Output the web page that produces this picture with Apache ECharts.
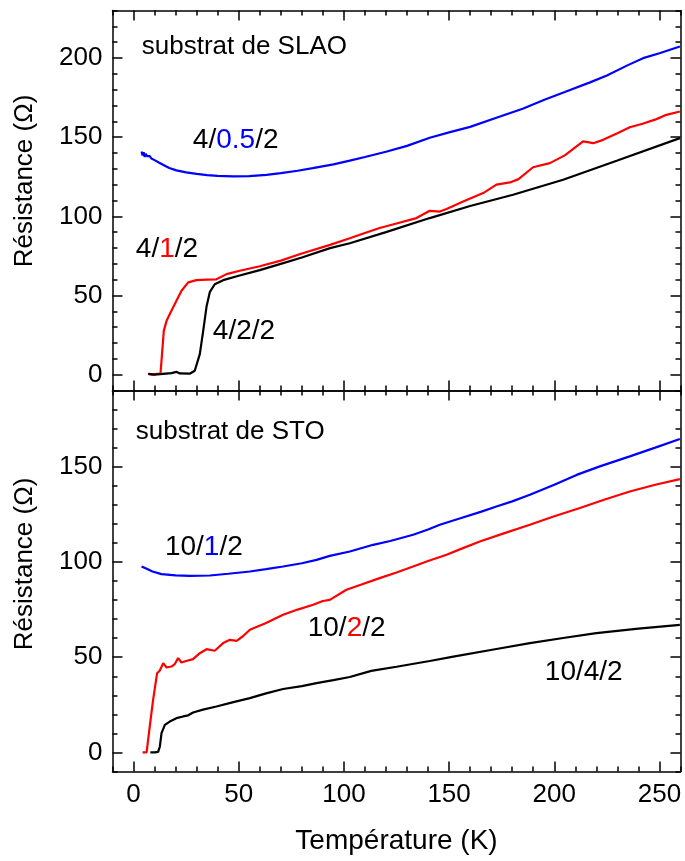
<!DOCTYPE html>
<html>
<head>
<meta charset="utf-8">
<script src="https://cdn.jsdelivr.net/npm/echarts@6/dist/echarts.min.js"></script>
<style>
  html, body { margin: 0; padding: 0; background: #ffffff; }
  #chart { width: 685px; height: 861px; }
</style>
</head>
<body>
<div id="chart"></div>
<script>
// Axis ranges and tick labels
const tempRange = [-10, 260];
const slaoResRange = [-10, 230];
const stoResRange = [-10, 190];
const tempTicks = [0, 50, 100, 150, 200, 250];
const slaoResTicks = [0, 50, 100, 150, 200];
const stoResTicks = [0, 50, 100, 150];
const minorStep = 10;

// SLAO substrate: resistance (Ohm) versus temperature (K)
const slao_4_05_2 = [
  [3.8,141],[4.3,138.5],[4.8,140.5],[5.3,137.5],[5.8,139.5],[6.3,138],[7,137.5],[7.7,138],
  [8.5,136.5],[10,135.5],[12,134],[14.9,132],[17,130.5],[20.4,129],[25,127.8],[30,126.8],
  [35,126],[40,125.5],[47.2,125.2],[55,125.4],[63.2,126.2],[70,127.3],[78,128.8],[85.2,130.4],
  [95,132.8],[102.8,135.2],[110,137.5],[120,140.8],[130,144.5],[140.8,149.6],[150,153],
  [160,156.5],[174.2,163],[185,168],[195,173.5],[205,178.5],[217,184.6],[225,189],
  [235,195.5],[242.2,199.9],[250,203],[259.7,207.3]
];
const slao_4_1_2 = [
  [7,0.5],[9,0],[11,0.5],[12.8,0.5],[13.3,9],[14.4,27.8],[15.7,34],[18,40.4],[20.4,46.7],
  [22.8,53],[26,58.3],[29.9,59.7],[35,60],[39.4,60.2],[44.2,63.5],[50,65.5],[60,68.5],
  [70,72],[80,76.5],[93.4,82],[102.8,86.2],[110,89.5],[117,92.6],[125,95.5],[134.5,98.9],
  [140.8,103.5],[145.6,103],[148.8,104.6],[156.7,109.4],[166.2,114.7],[172.5,120],
  [178.9,121.4],[183,123.5],[189.9,131],[197.9,133.6],[205,138.5],[213.7,147.3],
  [218.5,146.2],[223.2,148.3],[230,152.5],[235.9,156.3],[242,158.5],[248.6,161.4],
  [253.3,164.1],[259.7,166.2]
];
const slao_4_2_2 = [
  [7,0.5],[10,0],[14,0.5],[18,1],[20.4,1.8],[22,0.8],[26.7,0.6],[29.1,2.5],[31.5,13],
  [33.1,27.5],[34.7,43],[36.3,52.3],[38.6,57.1],[42.6,59.7],[50,62.5],[60,66],[70,70],
  [80,74],[93.4,79.9],[102.8,83],[120,90],[140.8,98.9],[160,106.5],[180.4,113.6],
  [204.2,123.1],[230,135.3],[259.7,149.4]
];

// STO substrate: resistance (Ohm) versus temperature (K)
const sto_10_1_2 = [
  [3.8,97.6],[6,96.5],[9,95],[13.3,93.6],[20,93],[26.7,92.7],[36.3,92.9],[45,93.8],
  [55.3,95],[63,96.2],[71.1,97.6],[80,99.3],[87,101.1],[93.3,103.2],[102.8,105.5],
  [113.9,109],[122,111],[132.9,114.3],[140,117],[145.6,119.5],[155,122.8],[165,126.3],
  [172.5,129.1],[180,131.8],[188.4,135.3],[200,140.5],[210.6,145.7],[222,150.3],
  [235.9,155.4],[248,160],[259.7,164.5]
];
const sto_10_2_2 = [
  [4.3,0],[6.2,0],[7.7,13.6],[9.3,27.6],[11.2,41.6],[12.5,43],[14.1,46.9],[15.7,44.6],
  [18,45.1],[19.6,46.4],[21.2,49.5],[22.8,47.2],[25,48],[28.3,49],[31.5,52.1],[34.7,54.2],
  [38.6,53.4],[42.6,57.4],[45.8,59.1],[49,58.6],[52,61],[55.3,64.4],[63,68],[71.1,72.3],
  [78,75],[85.4,77.5],[90,79.5],[93.3,80.1],[101.2,85.4],[108,88],[117,91.5],[125,94.5],
  [132.9,97.6],[140,100.5],[148.8,103.8],[156,107],[164.6,110.7],[176,115],[188.4,119.5],
  [200,124],[212.2,128.3],[224,132.8],[235.9,137],[248,140.5],[259.7,143.5]
];
const sto_10_4_2 = [
  [8,0],[10,0],[11.7,0.3],[12.5,3],[13.3,10.1],[14.9,14.5],[17.2,16.2],[20.4,18],
  [23.6,18.9],[26,19.5],[28.3,21],[33,22.5],[39.4,24.1],[47,26.3],[55.3,28.5],[63,31],
  [71.1,33.3],[80,34.8],[87,36.4],[95,38],[102.8,39.6],[113,42.8],[125,45],[140.8,48],
  [152,50.3],[172.5,54.3],[188.4,57.4],[205,60.2],[220,62.6],[240,65],[259.7,67]
];

// Text annotations placed in data coordinates [panel, T, R]
const annotations = [
  { panel: 0, at: [3.9, 207.1],  text: 'substrat de SLAO', size: 26 },
  { panel: 0, at: [28.2, 148.3], text: '4/{b|0.5}/2',     size: 28 },
  { panel: 0, at: [1.1, 79.5],   text: '4/{r|1}/2',       size: 28 },
  { panel: 0, at: [37.7, 27.1],  text: '4/2/2',           size: 28 },
  { panel: 1, at: [1.1, 168.3],  text: 'substrat de STO', size: 26 },
  { panel: 1, at: [14.9, 107.9], text: '10/{b|1}/2',      size: 28 },
  { panel: 1, at: [82.8, 65.4],  text: '10/{r|2}/2',      size: 28 },
  { panel: 1, at: [195.5, 42.3], text: '10/4/2',          size: 28 }
];

const FONT = '"Liberation Sans", Arial, Helvetica, sans-serif';
const BLUE = '#0000ff', RED = '#ff0000', BLACK = '#000000';

const chart = echarts.init(document.getElementById('chart'), null, { renderer: 'canvas' });

const grids = [
  { left: 112.5, top: 10.5, width: 568, height: 380 },
  { left: 112.5, top: 390.5, width: 568, height: 381 }
];

function majorAxis(gridIndex, position, range, ticks, showLabels, extra) {
  return Object.assign({
    type: 'value', gridIndex, position, min: range[0], max: range[1],
    axisLine: { show: true, onZero: false, lineStyle: { color: BLACK, width: 1.5 } },
    axisTick: { show: true, inside: true, length: 10, customValues: ticks,
                lineStyle: { color: BLACK, width: 1.5 } },
    axisLabel: { show: showLabels, customValues: ticks, fontSize: 26, fontFamily: FONT,
                 color: BLACK, margin: 10 },
    splitLine: { show: false }
  }, extra || {});
}
function minorAxis(gridIndex, position, range) {
  return {
    type: 'value', gridIndex, position, min: range[0], max: range[1], interval: minorStep,
    axisLine: { show: false, onZero: false },
    axisTick: { show: true, inside: true, length: 5, lineStyle: { color: BLACK, width: 1.5 } },
    axisLabel: { show: false },
    splitLine: { show: false }
  };
}

const xAxes = [];
const yAxes = [];
[0, 1].forEach(g => {
  const isBottom = g === 1;
  xAxes.push(majorAxis(g, 'bottom', tempRange, tempTicks, isBottom, isBottom ? {
    name: 'Température (K)', nameLocation: 'middle', nameGap: 56,
    nameTextStyle: { fontSize: 28, fontFamily: FONT, color: BLACK }
  } : {}));
  xAxes.push(minorAxis(g, 'bottom', tempRange));
  xAxes.push(majorAxis(g, 'top', tempRange, tempTicks, false));
  xAxes.push(minorAxis(g, 'top', tempRange));
  const rr = g === 0 ? slaoResRange : stoResRange;
  const rt = g === 0 ? slaoResTicks : stoResTicks;
  yAxes.push(majorAxis(g, 'left', rr, rt, true));
  yAxes.push(minorAxis(g, 'left', rr));
  yAxes.push(majorAxis(g, 'right', rr, rt, false));
  yAxes.push(minorAxis(g, 'right', rr));
});

function line(data, color, panel) {
  return {
    type: 'line', data, xAxisIndex: panel * 4, yAxisIndex: panel * 4,
    showSymbol: false, symbol: 'none', smooth: false, animation: false,
    lineStyle: { color, width: 2.2 }, z: 3
  };
}

chart.setOption({
  animation: false,
  backgroundColor: '#ffffff',
  grid: grids,
  xAxis: xAxes,
  yAxis: yAxes,
  series: [
    line(slao_4_05_2, BLUE, 0),
    line(slao_4_1_2, RED, 0),
    line(slao_4_2_2, BLACK, 0),
    line(sto_10_1_2, BLUE, 1),
    line(sto_10_2_2, RED, 1),
    line(sto_10_4_2, BLACK, 1)
  ]
});

// Annotations and vertical axis titles
const graphics = annotations.map(a => {
  const p = chart.convertToPixel({ xAxisIndex: a.panel * 4, yAxisIndex: a.panel * 4 }, a.at);
  return {
    type: 'text', x: p[0], y: p[1], z: 10,
    style: {
      text: a.text, fill: BLACK, fontSize: a.size, fontFamily: FONT,
      align: 'left', verticalAlign: 'middle',
      rich: {
        b: { fill: BLUE, fontSize: a.size, fontFamily: FONT },
        r: { fill: RED, fontSize: a.size, fontFamily: FONT }
      }
    }
  };
});
[181, 564].forEach(cy => {
  graphics.push({
    type: 'text', x: 25, y: cy, rotation: Math.PI / 2, z: 10,
    style: { text: 'Résistance (Ω)', fill: BLACK, fontSize: 26, fontFamily: FONT,
             align: 'center', verticalAlign: 'middle' }
  });
});
chart.setOption({ graphic: graphics });
</script>
</body>
</html>
